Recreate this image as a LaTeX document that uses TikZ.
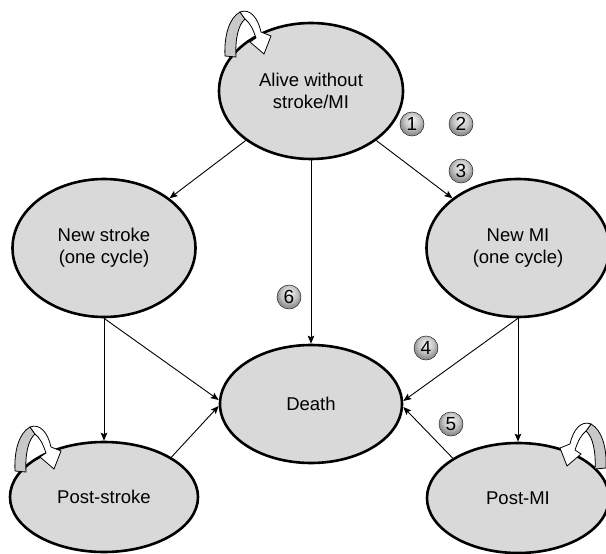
\documentclass[tikz,border=0pt]{standalone}
\usepackage{fontspec}
\setmainfont{Liberation Sans}
\usetikzlibrary{shapes.geometric,arrows.meta,shadings}
\definecolor{stategray}{RGB}{217,217,217}
\definecolor{loopgray}{RGB}{200,200,200}
\pgfdeclareradialshading{numball}{\pgfpoint{0bp}{10bp}}{%
  color(0bp)=(white);
  color(5bp)=(gray!20);
  color(16bp)=(gray!45);
  color(25bp)=(gray!85);
  color(50bp)=(gray!85)}
\begin{document}
\begin{tikzpicture}[x=1pt,y=-1pt,
  state/.style={ellipse, draw=black, line width=2.6pt, fill=stategray, inner sep=0pt, align=center, font=\fontsize{18.5}{22}\selectfont},
  arr/.style={line width=0.9pt, -{Stealth[length=8pt,width=6.5pt,inset=1.5pt]}},
  num/.style={circle, shading=numball, draw=gray!30!black, line width=0.5pt, minimum size=24pt, inner sep=0pt, font=\fontsize{19}{19}\selectfont},
  loopar/.pic={
    \filldraw[fill=loopgray, draw=black, line width=0.8pt] (0,46) .. controls (-1,26) and (4,8) .. (15,2) -- (20,9) .. controls (13,15) and (10,30) .. (11,47) -- cycle;
    \filldraw[fill=white, draw=black, line width=0.8pt] (15,2) .. controls (25,-2) and (33,8) .. (36,22) -- (46,26) -- (39,44) -- (25,32) -- (31,28) .. controls (28,19) and (25,13) .. (20,9) -- cycle;
  }
]
\useasboundingbox (0,0) rectangle (606,554);

\node[state, minimum width=184pt, minimum height=136pt] (alive) at (311,91) {Alive without\\stroke/MI};
\node[state, minimum width=183pt, minimum height=138pt] (stroke) at (104,248) {New stroke\\(one cycle)};
\node[state, minimum width=183pt, minimum height=138pt] (mi) at (518,248) {New MI\\(one cycle)};
\node[state, minimum width=182pt, minimum height=118pt] (death) at (311,404) {Death};
\node[state, minimum width=188pt, minimum height=110pt] (pstroke) at (104,497) {Post-stroke};
\node[state, minimum width=182pt, minimum height=110pt] (pmi) at (518,498) {Post-MI};

\draw[arr] (alive) -- (stroke);
\draw[arr] (alive.south) -- (death.north);
\draw[arr] (alive) -- (mi);
\draw[arr] (stroke.south) -- (pstroke.north);
\draw[arr] (stroke.south) -- ([yshift=4pt]death.west);
\draw[arr] (pstroke.north east) -- ([yshift=-2pt]death.west);
\draw[arr] (mi.south) -- ([yshift=3pt]death.east);
\draw[arr] (mi.south) -- (pmi.north);
\draw[arr] (pmi.north west) -- ([yshift=-3pt]death.east);

\pic at (225,10) {loopar};
\pic at (15,425) {loopar};
\pic[xscale=-1] at (606,422) {loopar};

\node[num] (n1) at (412,124) {1};
\node[num] (n2) at (461,124) {2};
\node[num] (n3) at (461,171) {3};
\node[num] (n4) at (426,348) {4};
\node[num] (n5) at (451,424) {5};
\node[num] (n6) at (289,297) {6};
\end{tikzpicture}
\end{document}
